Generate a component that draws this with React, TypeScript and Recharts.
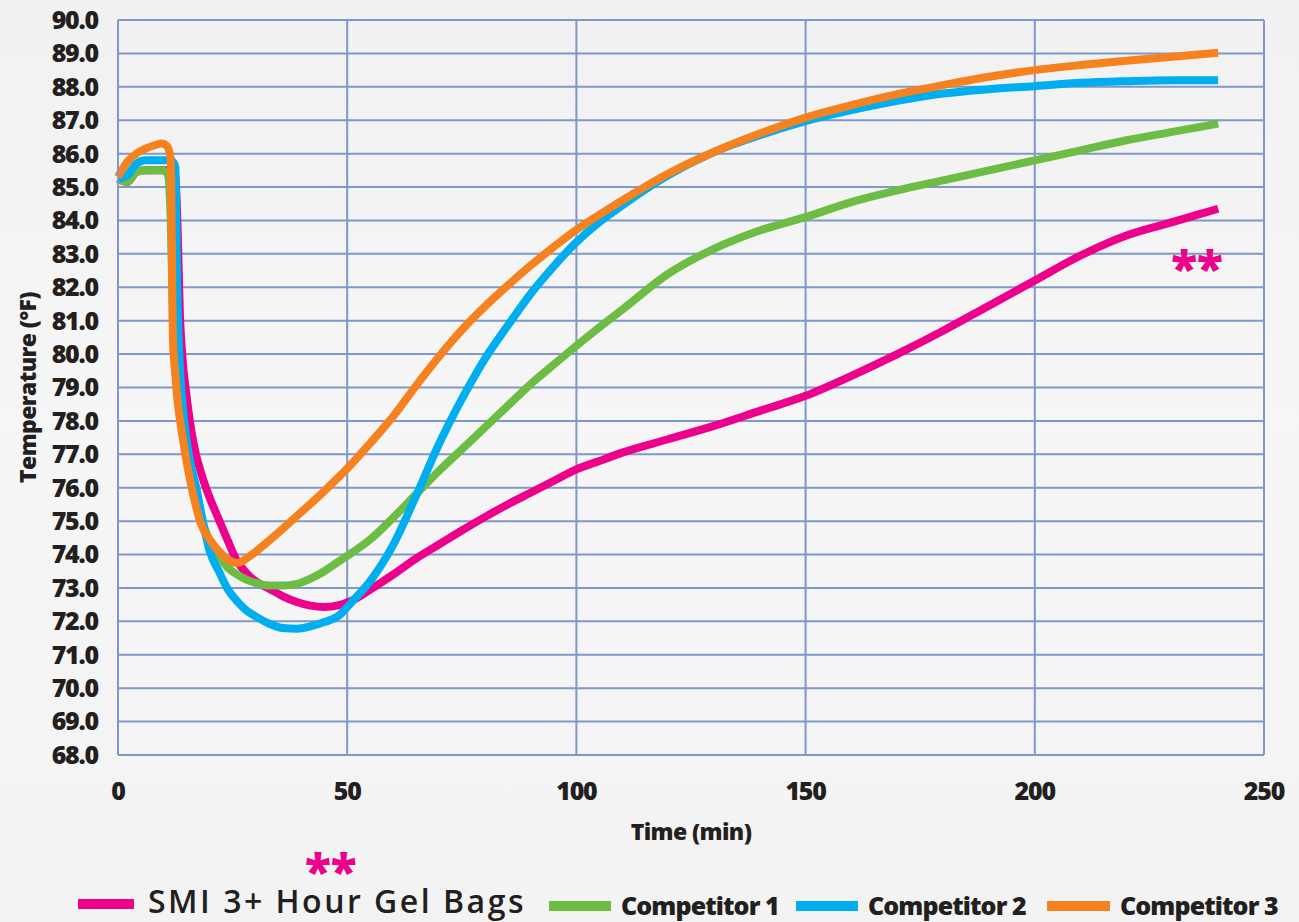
import React from "react";
import { LineChart, Line, XAxis, YAxis, CartesianGrid, ReferenceDot } from "recharts";

const minutes = [0, 2, 4, 6, 8, 9.5, 10.5, 11, 11.5, 12, 12.5, 13, 13.5, 14, 15, 16, 17, 18, 20, 22, 24, 26, 28, 30, 33, 36, 39, 42, 45, 48, 51, 55, 60, 65, 70, 75, 80, 85, 90, 95, 100, 105, 110, 120, 130, 140, 150, 160, 170, 180, 190, 200, 210, 220, 230, 240];

const smiGelBags = [85.25, 85.15, 85.45, 85.5, 85.5, 85.5, 85.5, 85.5, 85.5, 85.5, 85.3, 83.8, 81.2, 80.0, 78.7, 77.7, 77.0, 76.5, 75.7, 75.05, 74.4, 73.8, 73.45, 73.2, 72.98, 72.75, 72.58, 72.47, 72.43, 72.48, 72.62, 72.95, 73.4, 73.88, 74.3, 74.72, 75.12, 75.5, 75.85, 76.2, 76.55, 76.8, 77.05, 77.45, 77.85, 78.3, 78.75, 79.35, 80.0, 80.7, 81.45, 82.2, 82.95, 83.55, 83.95, 84.35];

const competitor1 = [85.25, 85.15, 85.45, 85.5, 85.5, 85.5, 85.45, 85.3, 84.0, 81.0, 79.8, 79.0, 78.4, 77.9, 77.0, 76.3, 75.7, 75.15, 74.4, 73.95, 73.6, 73.4, 73.25, 73.15, 73.07, 73.07, 73.12, 73.28, 73.5, 73.78, 74.05, 74.45, 75.1, 75.8, 76.5, 77.15, 77.8, 78.45, 79.1, 79.68, 80.25, 80.8, 81.33, 82.4, 83.15, 83.7, 84.1, 84.55, 84.9, 85.2, 85.5, 85.8, 86.1, 86.4, 86.65, 86.9];

const competitor2 = [85.25, 85.35, 85.7, 85.8, 85.8, 85.8, 85.8, 85.8, 85.8, 85.75, 85.6, 81.5, 79.6, 78.6, 77.4, 76.6, 76.05, 75.35, 74.1, 73.5, 72.95, 72.6, 72.33, 72.15, 71.93, 71.8, 71.78, 71.85, 71.98, 72.15, 72.58, 73.2, 74.28, 75.75, 77.3, 78.65, 79.85, 80.85, 81.8, 82.62, 83.35, 83.95, 84.45, 85.35, 86.05, 86.55, 86.97, 87.3, 87.58, 87.8, 87.93, 88.02, 88.12, 88.17, 88.2, 88.2];

const competitor3 = [85.3, 85.75, 86.0, 86.15, 86.25, 86.3, 86.25, 86.15, 85.8, 80.4, 79.4, 78.6, 78.05, 77.6, 76.75, 76.05, 75.45, 74.95, 74.45, 74.1, 73.85, 73.75, 73.88, 74.08, 74.42, 74.78, 75.15, 75.52, 75.9, 76.3, 76.72, 77.33, 78.13, 79.05, 79.92, 80.72, 81.42, 82.05, 82.65, 83.2, 83.72, 84.17, 84.6, 85.4, 86.05, 86.6, 87.08, 87.45, 87.78, 88.05, 88.3, 88.5, 88.65, 88.78, 88.9, 89.02];

const xTicks = [0, 50, 100, 150, 200, 250];
const yTicks = [68, 69, 70, 71, 72, 73, 74, 75, 76, 77, 78, 79, 80, 81, 82, 83, 84, 85, 86, 87, 88, 89, 90];

const seriesNames = ["SMI 3+ Hour Gel Bags", "Competitor 1", "Competitor 2", "Competitor 3"];

const colors = {
  pink: "#ec008c",
  green: "#6dbd45",
  blue: "#00aeef",
  orange: "#f5821f",
  grid: "#7f97c9",
  ink: "#231f20",
};

const chartData = minutes.map((m, i) => ({
  minute: m,
  smi: smiGelBags[i],
  c1: competitor1[i],
  c2: competitor2[i],
  c3: competitor3[i],
}));

const font = "'Open Sans', 'DejaVu Sans', sans-serif";
const tickStyle = { fontSize: 25, fontWeight: 800, fill: colors.ink, fontFamily: font, letterSpacing: -1.2 };

function LegendItem({ color, label, left, swatch, big }: { color: string; label: string; left: number; swatch: number; big?: boolean }) {
  return (
    <div style={{ position: "absolute", left, top: big ? 886 : 890, display: "flex", alignItems: "center", height: 30 }}>
      <div style={{ width: swatch, height: 10, background: color, marginRight: big ? 14 : 10, marginTop: big ? 5 : 2 }} />
      <span
        style={{
          fontFamily: font,
          fontSize: big ? 32 : 25,
          fontWeight: big ? 600 : 800,
          letterSpacing: big ? 2.5 : -0.9,
          lineHeight: big ? "30px" : "26px",
          color: colors.ink,
          whiteSpace: "nowrap",
        }}
      >
        {label}
      </span>
    </div>
  );
}

export default function App() {
  return (
    <div
      style={{
        position: "absolute",
        left: 0,
        top: 0,
        width: 1299,
        height: 922,
        overflow: "hidden",
        background: "linear-gradient(180deg, #f1f1f1 0%, #f6f6f6 45%, #f3f3f3 100%)",
      }}
    >
      <LineChart
        width={1299}
        height={860}
        data={chartData}
        margin={{ top: 20, right: 35, left: 0, bottom: 0 }}
      >
        <CartesianGrid stroke={colors.grid} strokeWidth={2} />
        <XAxis
          dataKey="minute"
          type="number"
          domain={[0, 250]}
          ticks={xTicks}
          height={105}
          axisLine={{ stroke: colors.grid, strokeWidth: 2 }}
          tickLine={false}
          tickMargin={21}
          tick={tickStyle}
          label={{
            content: (props: any) => {
              const vb = props.viewBox || {};
              return (
                <text
                  x={vb.x + vb.width / 2}
                  y={vb.y + 85}
                  textAnchor="middle"
                  fontFamily={font}
                  fontSize={23}
                  fontWeight={800}
                  letterSpacing={-0.6}
                  fill={colors.ink}
                >
                  Time (min)
                </text>
              );
            },
          }}
        />
        <YAxis
          type="number"
          domain={[68, 90]}
          ticks={yTicks}
          width={118}
          interval={0}
          axisLine={{ stroke: colors.grid, strokeWidth: 2 }}
          tickLine={false}
          tickMargin={14}
          tick={tickStyle}
          tickFormatter={(v: number) => v.toFixed(1)}
          label={{
            content: (props: any) => {
              const vb = props.viewBox || {};
              const cx = 27;
              const cy = vb.y + vb.height / 2;
              return (
                <text
                  x={cx}
                  y={cy}
                  transform={`rotate(-90 ${cx} ${cy})`}
                  textAnchor="middle"
                  dominantBaseline="central"
                  fontFamily={font}
                  fontSize={23}
                  fontWeight={800}
                  letterSpacing={-0.6}
                  fill={colors.ink}
                >
                  Temperature (°F)
                </text>
              );
            },
          }}
        />
        <Line type="monotone" dataKey="smi" name={seriesNames[0]} stroke={colors.pink} strokeWidth={8} dot={false} strokeLinecap="butt" isAnimationActive={false} />
        <Line type="monotone" dataKey="c1" name={seriesNames[1]} stroke={colors.green} strokeWidth={8} dot={false} strokeLinecap="butt" isAnimationActive={false} />
        <Line type="monotone" dataKey="c2" name={seriesNames[2]} stroke={colors.blue} strokeWidth={8} dot={false} strokeLinecap="butt" isAnimationActive={false} />
        <Line type="monotone" dataKey="c3" name={seriesNames[3]} stroke={colors.orange} strokeWidth={8} dot={false} strokeLinecap="butt" isAnimationActive={false} />
        <ReferenceDot
          x={235.4}
          y={82.58}
          r={0}
          fill="none"
          stroke="none"
          label={{ value: "**", position: "center", fill: colors.pink, fontSize: 48, fontWeight: 800, fontFamily: font }}
        />
      </LineChart>

      <div
        style={{
          position: "absolute",
          left: 305,
          top: 857,
          height: 26,
          fontFamily: font,
          fontSize: 48,
          fontWeight: 800,
          color: colors.pink,
          lineHeight: "26px",
        }}
      >
        **
      </div>
      <LegendItem color={colors.pink} label={seriesNames[0]} left={78} swatch={56} big />
      <LegendItem color={colors.green} label={seriesNames[1]} left={549} swatch={62} />
      <LegendItem color={colors.blue} label={seriesNames[2]} left={796} swatch={62} />
      <LegendItem color={colors.orange} label={seriesNames[3]} left={1047} swatch={63} />
    </div>
  );
}
